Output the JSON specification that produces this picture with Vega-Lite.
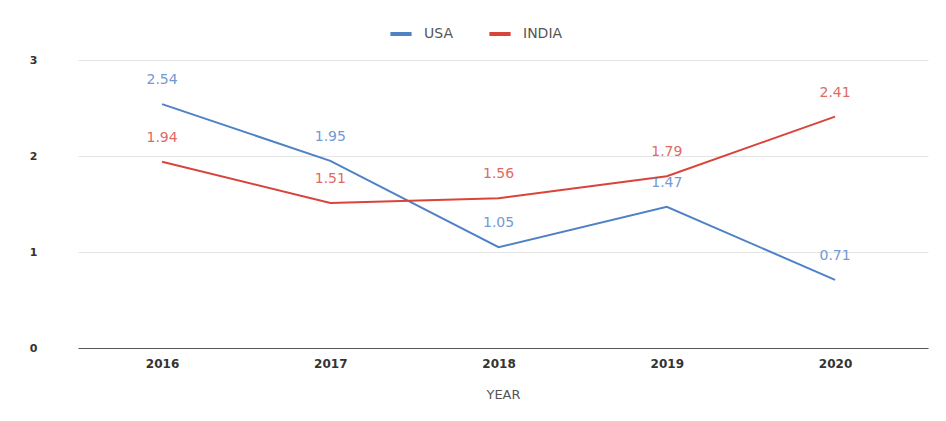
{
  "$schema": "https://vega.github.io/schema/vega-lite/v6.json",
  "width": 850,
  "height": 288,
  "autosize": "none",
  "padding": {"left": 78, "top": 60, "right": 18, "bottom": 73},
  "background": "white",
  "config": {
    "font": "DejaVu Sans",
    "view": {"stroke": null}
  },
  "data": {
    "values": [
      {"year": "2016", "country": "USA", "value": 2.54},
      {"year": "2017", "country": "USA", "value": 1.95},
      {"year": "2018", "country": "USA", "value": 1.05},
      {"year": "2019", "country": "USA", "value": 1.47},
      {"year": "2020", "country": "USA", "value": 0.71},
      {"year": "2016", "country": "INDIA", "value": 1.94},
      {"year": "2017", "country": "INDIA", "value": 1.51},
      {"year": "2018", "country": "INDIA", "value": 1.56},
      {"year": "2019", "country": "INDIA", "value": 1.79},
      {"year": "2020", "country": "INDIA", "value": 2.41}
    ]
  },
  "encoding": {
    "x": {
      "field": "year", "type": "ordinal",
      "scale": {"type": "point", "padding": 0.526, "align": 0.475},
      "axis": {
        "title": "YEAR", "labelAngle": 0, "labelFontWeight": "bold", "labelFontSize": 12,
        "labelColor": "#333333", "labelPadding": 10, "ticks": false,
        "domainColor": "#555555", "domainWidth": 1.2, "grid": false,
        "titleFontWeight": "normal", "titleFontSize": 13, "titleColor": "#555555", "titlePadding": 19
      }
    },
    "y": {
      "field": "value", "type": "quantitative",
      "scale": {"domain": [0, 3]},
      "axis": {
        "title": null, "values": [0, 1, 2, 3], "format": "d", "domain": false, "ticks": false,
        "labelPadding": 41, "labelFontWeight": "bold", "labelFontSize": 11, "labelColor": "#333333",
        "gridColor": "#e4e4e4"
      }
    },
    "color": {
      "field": "country", "type": "nominal",
      "scale": {"domain": ["USA", "INDIA"], "range": ["#4f81c7", "#d9443a"]},
      "legend": {
        "title": null, "orient": "none", "direction": "horizontal",
        "legendX": 310, "legendY": -39, "symbolType": "stroke", "symbolSize": 450, "symbolStrokeWidth": 4,
        "labelFontSize": 14, "labelColor": "#555555", "labelOffset": 10, "columnPadding": 28
      }
    }
  },
  "layer": [
    {"mark": {"type": "line", "strokeWidth": 2}},
    {
      "mark": {"type": "text", "dy": -24, "fontSize": 14},
      "encoding": {
        "text": {"field": "value", "type": "quantitative", "format": ".2f"},
        "color": {
          "field": "country", "type": "nominal",
          "scale": {"domain": ["USA", "INDIA"], "range": ["#4f81c7", "#d9443a"]},
          "legend": null
        },
        "opacity": {"value": 0.8}
      }
    }
  ]
}
